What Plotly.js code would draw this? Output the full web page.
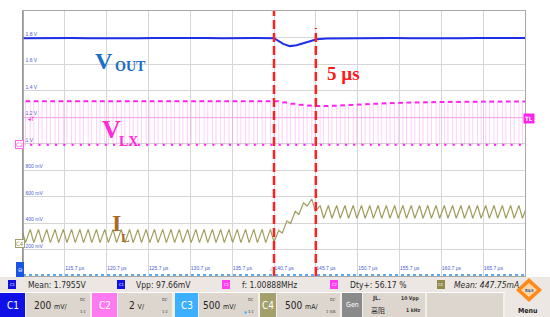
<!DOCTYPE html>
<html>
<head>
<meta charset="utf-8">
<script src="https://cdn.plot.ly/plotly-3.0.1.min.js"></script>
<style>
  html, body { margin: 0; padding: 0; background: #fff; }
  #scope { width: 550px; height: 317px; }
</style>
</head>
<body>
<div id="scope"></div>
<script>
// grid labels (time base 5 us/div, C1 200 mV/div)
var xTicks = [110.7, 115.7, 120.7, 125.7, 130.7, 135.7, 140.7, 145.7, 150.7, 155.7, 160.7, 165.7, 170.7];
var xTickText = ['', '115.7 µs', '120.7 µs', '125.7 µs', '130.7 µs', '135.7 µs', '140.7 µs',
    '145.7 µs', '150.7 µs', '155.7 µs', '160.7 µs', '165.7 µs', ''];
var yTicks = [0, 0.2, 0.4, 0.6, 0.8, 1.0, 1.2, 1.4, 1.6, 1.8];
var yTickText = ['0 V', '200 mV', '400 mV', '600 mV', '800 mV', '1 V', '1.2 V', '1.4 V', '1.6 V', '1.8 V'];

// C1 - Vout (V)
var voutTime = [110.7, 112.5, 114.5, 116.5, 118.5, 120.5, 122.5, 124.5, 126.5, 128.5,
    130.5, 132.5, 134.5, 136.5, 138.5, 140.7, 141.2, 141.8, 142.6, 143.4,
    144.2, 145.0, 145.8, 147.0, 149.0, 151.0, 153.0, 155.0, 157.0, 159.0,
    161.0, 163.0, 165.0, 167.0, 169.0, 170.7];
var voutVolt = [1.795, 1.797, 1.794, 1.796, 1.795, 1.793, 1.796, 1.794, 1.797, 1.795,
    1.794, 1.796, 1.795, 1.793, 1.796, 1.795, 1.778, 1.752, 1.735, 1.741,
    1.757, 1.773, 1.787, 1.792, 1.794, 1.796, 1.794, 1.796, 1.795, 1.793,
    1.796, 1.794, 1.796, 1.795, 1.794, 1.796];

// C4 - inductor current turning points (us / A), also the LX switching edges
var ilTime = [110.57, 111.00, 111.56, 111.99, 112.55, 112.98, 113.54, 113.97, 114.53, 114.96,
    115.52, 115.95, 116.51, 116.94, 117.50, 117.93, 118.49, 118.92, 119.48, 119.91,
    120.47, 120.90, 121.46, 121.89, 122.45, 122.88, 123.44, 123.87, 124.43, 124.86,
    125.42, 125.85, 126.41, 126.84, 127.40, 127.83, 128.39, 128.82, 129.38, 129.81,
    130.37, 130.80, 131.36, 131.79, 132.35, 132.78, 133.34, 133.77, 134.33, 134.76,
    135.32, 135.75, 136.31, 136.74, 137.30, 137.73, 138.29, 138.72, 139.28, 139.71,
    140.27, 140.70,
    141.26, 141.69, 142.25, 142.68, 143.24, 143.67, 144.23, 144.66, 145.22, 145.65,
    146.21, 146.64, 147.20, 147.63, 148.19, 148.62, 149.18, 149.61, 150.17, 150.60,
    151.16, 151.59, 152.15, 152.58, 153.14, 153.57, 154.13, 154.56, 155.12, 155.55,
    156.11, 156.54, 157.10, 157.53, 158.09, 158.52, 159.08, 159.51, 160.07, 160.50,
    161.06, 161.49, 162.05, 162.48, 163.04, 163.47, 164.03, 164.46, 165.02, 165.45,
    166.01, 166.44, 167.00, 167.43, 167.99, 168.42, 168.98, 169.41, 169.97, 170.40,
    170.96];
var ilAmp = [0.34, 0.09, 0.34, 0.09, 0.34, 0.09, 0.34, 0.09, 0.34, 0.09,
    0.34, 0.09, 0.34, 0.09, 0.34, 0.09, 0.34, 0.09, 0.34, 0.09,
    0.34, 0.09, 0.34, 0.09, 0.34, 0.09, 0.34, 0.09, 0.34, 0.09,
    0.34, 0.09, 0.34, 0.09, 0.34, 0.09, 0.34, 0.09, 0.34, 0.09,
    0.34, 0.09, 0.34, 0.09, 0.34, 0.09, 0.34, 0.09, 0.34, 0.09,
    0.34, 0.09, 0.34, 0.09, 0.34, 0.09, 0.34, 0.09, 0.34, 0.09,
    0.34, 0.10,
    0.32, 0.27, 0.50, 0.45, 0.68, 0.62, 0.84, 0.78, 0.91, 0.68,
    0.79, 0.55, 0.79, 0.55, 0.79, 0.55, 0.79, 0.55, 0.79, 0.55,
    0.79, 0.55, 0.79, 0.55, 0.79, 0.55, 0.79, 0.55, 0.79, 0.55,
    0.79, 0.55, 0.79, 0.55, 0.79, 0.55, 0.79, 0.55, 0.79, 0.55,
    0.79, 0.55, 0.79, 0.55, 0.79, 0.55, 0.79, 0.55, 0.79, 0.55,
    0.79, 0.55, 0.79, 0.55, 0.79, 0.55, 0.79, 0.55, 0.79, 0.55,
    0.79];

// C2 - VLX level after each edge (V)
var vlxVolt = [-0.1, 3.19, -0.1, 3.19, -0.1, 3.19, -0.1, 3.19, -0.1, 3.19,
    -0.1, 3.19, -0.1, 3.19, -0.1, 3.19, -0.1, 3.19, -0.1, 3.19,
    -0.1, 3.19, -0.1, 3.19, -0.1, 3.19, -0.1, 3.19, -0.1, 3.19,
    -0.1, 3.19, -0.1, 3.19, -0.1, 3.19, -0.1, 3.19, -0.1, 3.19,
    -0.1, 3.19, -0.1, 3.19, -0.1, 3.19, -0.1, 3.19, -0.1, 3.19,
    -0.1, 3.19, -0.1, 3.19, -0.1, 3.19, -0.1, 3.19, -0.1, 3.19,
    -0.1, 3.19,
    -0.1, 3.10, -0.1, 3.00, -0.1, 2.92, -0.1, 2.86, -0.1, 2.83,
    -0.1, 2.83, -0.1, 2.85, -0.1, 2.88, -0.1, 2.91, -0.1, 2.94,
    -0.1, 2.97, -0.1, 3.00, -0.1, 3.03, -0.1, 3.05, -0.1, 3.07,
    -0.1, 3.09, -0.1, 3.10, -0.1, 3.11, -0.1, 3.12, -0.1, 3.13,
    -0.1, 3.14, -0.1, 3.14, -0.1, 3.15, -0.1, 3.15, -0.1, 3.16,
    -0.1, 3.16, -0.1, 3.16, -0.1, 3.17, -0.1, 3.17, -0.1, 3.17,
    -0.1];

// C3 sits on the bottom edge
var c3Time = [110.7, 170.7];
var c3Volt = [0.02, 0.02];

var triggerLevel = 1.95;          // C2 trigger level (V)
var markerTimes = [140.7, 145.7]; // red cursors

var measText = ['Mean: 1.7955V', 'Vpp: 97.66mV', 'f: 1.00888MHz', 'Dty+: 56.17 %', '<i>Mean: 447.75mA</i>'];
var measChan = ['C1', 'C1', 'C2', 'C2', 'C4'];
var scaleText = ['200 <span style="font-size:7px">mV/</span>', '2 <span style="font-size:7px">V/</span>',
    '500 <span style="font-size:7px">mV/</span>', '500 <span style="font-size:7px">mA/</span>'];

// ---- pixel helpers for the screen furniture ----
var L = 23, T = 11, W = 502, H = 265;
function px(x) { return (x - L) / W; }
function py(y) { return (T + H - y) / H; }

var UI = 'Liberation Sans Narrow, DejaVu Sans Condensed, Liberation Sans, sans-serif';
var SERIF = 'Liberation Serif, Times New Roman, serif';
var chColor = { C1: '#1010e6', C2: '#ff3cf0', C3: '#3cb0ff', C4: '#8e8c48' };

function box(x0, y0, x1, y1, fill) {
    return { type: 'rect', xref: 'paper', yref: 'paper', layer: 'above',
        x0: px(x0), x1: px(x1), y0: py(y1), y1: py(y0),
        fillcolor: fill, line: { width: 0 } };
}
function txt(x, y, s, size, color, anchor, family) {
    return { xref: 'paper', yref: 'paper', x: px(x), y: py(y), text: s, showarrow: false,
        xanchor: anchor || 'center', yanchor: 'middle',
        font: { family: family || UI, size: size, color: color } };
}

// LX plateaus split into high / low pieces
function plateaus(high) {
    var xs = [], ys = [];
    for (var i = 0; i < ilTime.length - 1; i++) {
        if ((vlxVolt[i] > 1) === high) {
            xs.push(ilTime[i], ilTime[i + 1], null);
            ys.push(vlxVolt[i], vlxVolt[i], null);
        }
    }
    return { x: xs, y: ys };
}
var hi = plateaus(true), lo = plateaus(false);

var data = [
    { x: ilTime, y: vlxVolt, yaxis: 'y2', mode: 'lines', line: { shape: 'hv', color: 'rgba(255,120,240,0.35)', width: 1 }, hoverinfo: 'skip' },
    { x: hi.x, y: hi.y, yaxis: 'y2', mode: 'lines', line: { color: '#ff22ee', width: 2 }, hoverinfo: 'skip' },
    { x: lo.x, y: lo.y, yaxis: 'y2', mode: 'lines', line: { color: '#ff22ee', width: 2, dash: '2px,4px' }, hoverinfo: 'skip' },
    { x: ilTime, y: ilAmp, yaxis: 'y3', mode: 'lines', line: { color: '#a09e5e', width: 1.2 } },
    { x: voutTime, y: voutVolt, mode: 'lines', line: { color: '#1f2ee8', width: 2 } },
    { x: c3Time, y: c3Volt, yaxis: 'y4', mode: 'lines', line: { color: '#2f8ff0', width: 1.5, dash: 'dot' } }
];

var shapes = [
    { type: 'line', xref: 'paper', yref: 'y2', x0: 0, x1: 1, y0: triggerLevel, y1: triggerLevel,
        line: { color: '#ffa6f2', width: 1 } },
    // darker left frame edge
    { type: 'line', xref: 'paper', yref: 'paper', x0: 0, x1: 0, y0: 0, y1: 1,
        line: { color: '#909090', width: 1.5 } }
];
markerTimes.forEach(function (t, i) {
    shapes.push({ type: 'line', xref: 'x', yref: 'paper', x0: t, x1: t, y0: 0, y1: i === 0 ? 1 : py(28),
        line: { color: '#ff2020', width: 2.5, dash: '9px,4px' }, layer: 'above' });
});

// status bar
shapes.push(box(0, 277, 550, 292, '#ece7e2'));
shapes.push(box(0, 293, 550, 317, '#f3efeb'));
shapes.push(box(0, 293, 25, 317, chColor.C1));
shapes.push(box(26, 293, 90, 317, '#ddd6ce'));
shapes.push(box(92, 293, 117, 317, '#ff7af0'));
shapes.push(box(118, 293, 172, 317, '#ddd6ce'));
shapes.push(box(175, 293, 198, 317, chColor.C3));
shapes.push(box(199, 293, 258, 317, '#ddd6ce'));
shapes.push(box(260, 293, 276, 317, '#a3a06c'));
shapes.push(box(277, 293, 340, 317, '#ddd6ce'));
shapes.push(box(342, 293, 362, 317, '#8a8a8a'));
shapes.push(box(363, 293, 425, 317, '#ddd6ce'));
shapes.push(box(427, 293, 503, 317, '#ddd6ce'));
shapes.push(box(505, 277, 550, 317, '#ece7e2'));
var chipX = [8, 117, 222, 330, 437];
chipX.forEach(function (x, i) { shapes.push(box(x, 280, x + 8, 289, chColor[measChan[i]])); });
// C3 marker and R&S logo
shapes.push(box(16, 262, 24, 277, '#1a55e0'));
shapes.push({ type: 'path', xref: 'paper', yref: 'paper', layer: 'above',
    path: 'M' + px(529) + ',' + py(278) + ' L' + px(542) + ',' + py(290) + ' L' + px(529) + ',' + py(302) + ' L' + px(516) + ',' + py(290) + ' Z',
    fillcolor: '#ff8a1a', line: { width: 0 } });
shapes.push({ type: 'path', xref: 'paper', yref: 'paper', layer: 'above',
    path: 'M' + px(529) + ',' + py(283) + ' L' + px(537) + ',' + py(290) + ' L' + px(529) + ',' + py(297) + ' L' + px(521) + ',' + py(290) + ' Z',
    fillcolor: '#ffd6a8', line: { width: 0 } });

var ann = [
    txt(104, 61, '<b>V</b>', 24, '#1a6ec8', 'center', SERIF),
    txt(130, 67, '<b>OUT</b>', 14, '#1a6ec8', 'center', SERIF),
    txt(343, 74, '<b>5 µs</b>', 19, '#ff1a1a', 'center', SERIF),
    txt(111, 129, '<b>V</b>', 26, '#ff2ad4', 'center', SERIF),
    txt(128, 141, '<b>LX</b>', 14, '#ff2ad4', 'center', SERIF),
    txt(116.5, 223, '<b>I</b>', 24, '#a86a2a', 'center', SERIF),
    txt(125, 237, '<b>L</b>', 13, '#a86a2a', 'center', SERIF),
    // channel tags
    { xref: 'paper', yref: 'paper', x: px(15), y: py(144.5), text: 'C2', showarrow: false,
        font: { family: UI, size: 6, color: '#ff44dd' }, bgcolor: '#ffffff', bordercolor: '#ff66e0', borderwidth: 1, borderpad: 0 },
    { xref: 'paper', yref: 'paper', x: px(15), y: py(247.5), text: 'C4', showarrow: false,
        font: { family: UI, size: 6, color: '#8e8c48' }, bgcolor: '#ffffff', bordercolor: '#a3a06c', borderwidth: 1, borderpad: 0 },
    { xref: 'paper', yref: 'paper', x: px(535), y: py(118.5), text: '<b>TL</b>', showarrow: false,
        font: { family: UI, size: 6, color: '#ffffff' }, bgcolor: '#ff22ee', borderpad: 1 },
    txt(31, 118, '◂T', 6, '#ff22ee'),
    txt(20, 269.5, '⊖', 6, '#ffffff'),
    { xref: 'x', yref: 'paper', x: markerTimes[0], y: py(273), text: '△', showarrow: false,
        xanchor: 'right', xshift: 3,
        font: { family: 'DejaVu Sans', size: 6, color: '#888888' } },
    // scale boxes
    txt(12.5, 305, 'C1', 10, '#ffffff'),
    txt(104.5, 305, 'C2', 10, '#ffffff'),
    txt(186.5, 305, 'C3', 10, '#ffffff'),
    txt(268, 305, 'C4', 10, '#ffffff'),
    txt(352, 305, 'Gen', 7, '#ffffff'),
    txt(32, 305, scaleText[0], 10, '#222222', 'left'),
    txt(127, 305, scaleText[1], 10, '#222222', 'left'),
    txt(201, 305, scaleText[2], 10, '#222222', 'left'),
    txt(283, 305, scaleText[3], 10, '#222222', 'left'),
    txt(245, 312, '▼', 4, '#33aaff'),
    txt(88, 299, 'DC', 4, '#333333', 'right'), txt(88, 311, '1:1', 4, '#333333', 'right'),
    txt(170, 299, 'DC', 4, '#333333', 'right'), txt(170, 311, '1:1', 4, '#333333', 'right'),
    txt(256, 299, 'DC', 4, '#333333', 'right'), txt(256, 311, '1:1', 4, '#333333', 'right'),
    txt(338, 299, 'DC', 4, '#333333', 'right'), txt(338, 311, '1 V/A', 4, '#333333', 'right'),
    txt(370, 298, '<b>JL.</b>', 6, '#333333', 'left'),
    txt(369, 310, '高阻', 7, '#333333', 'left', 'Noto Sans CJK SC'),
    txt(422, 298, '<b>10 Vpp</b>', 5, '#333333', 'right'),
    txt(422, 310, '<b>1 kHz</b>', 5, '#333333', 'right'),
    txt(529, 290, '<b>R&amp;S</b>', 4, '#2a5caa'),
    txt(528, 311, '<b>Menu</b>', 7, '#222222')
];
var chipLabelX = [12, 121, 226, 334, 441];
var measX = [26, 134, 240, 348, 452];
measText.forEach(function (s, i) {
    ann.push(txt(chipLabelX[i], 284.5, measChan[i], 4, '#ffffff'));
    ann.push(txt(measX[i], 285, s, 8.5, '#2a2a2a', 'left'));
});

var hidden = { overlaying: 'y', visible: false, fixedrange: true };
var layout = {
    width: 550,
    height: 317,
    margin: { l: L, r: 550 - L - W, t: T, b: 317 - T - H, pad: 0 },
    paper_bgcolor: '#ffffff',
    plot_bgcolor: '#ffffff',
    showlegend: false,
    xaxis: {
        range: [110.7, 170.7],
        tickmode: 'array', tickvals: xTicks, ticktext: xTickText,
        ticklabelposition: 'inside right',
        tickfont: { family: 'Liberation Sans', size: 5, color: '#4b5bd0' },
        showgrid: true, gridcolor: '#d6d6d6', gridwidth: 1,
        showline: true, mirror: true, linecolor: '#a8a8a8', linewidth: 1,
        zeroline: false, ticks: ''
    },
    yaxis: {
        range: [0, 2],
        tickmode: 'array', tickvals: yTicks, ticktext: yTickText,
        ticklabelposition: 'inside top',
        tickfont: { family: 'Liberation Sans', size: 5, color: '#4b5bd0' },
        showgrid: true, gridcolor: '#d6d6d6', gridwidth: 1,
        showline: true, mirror: true, linecolor: '#a8a8a8', linewidth: 1,
        zeroline: false, ticks: ''
    },
    yaxis2: Object.assign({ range: [-10, 10] }, hidden),
    yaxis3: Object.assign({ range: [-0.54, 4.46] }, hidden),
    yaxis4: Object.assign({ range: [0, 5] }, hidden),
    shapes: shapes,
    annotations: ann
};

Plotly.newPlot('scope', data, layout, { displayModeBar: false, staticPlot: true });
</script>
</body>
</html>
